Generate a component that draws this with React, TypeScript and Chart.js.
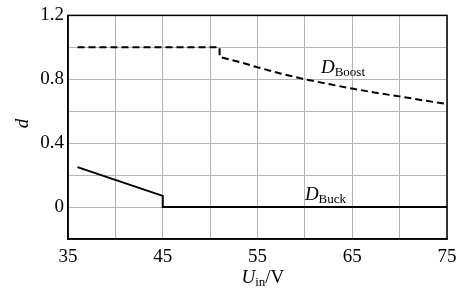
import React, { useEffect, useRef } from "react";
import { Chart, registerables } from "chart.js";

Chart.register(...registerables);

const buckX = [36, 45, 45, 75];
const buckY = [0.25, 0.07, 0, 0];
const boostX = [36, 51, 51, 53, 55, 57.5, 60, 62.5, 65, 67.5, 70, 72.5, 75];
const boostY = [1.0, 1.0, 0.94, 0.91, 0.875, 0.835, 0.8, 0.77, 0.742, 0.715, 0.693, 0.668, 0.645];
const xTickLabels = [35, 45, 55, 65, 75];
const yTickLabels = [0, 0.4, 0.8, 1.2];

const FONT = '"Liberation Serif", "Times New Roman", serif';

function drawSub(ctx: CanvasRenderingContext2D, x: number, y: number, main: string, sub: string, rest = "") {
  ctx.save();
  ctx.fillStyle = "#000";
  ctx.textBaseline = "alphabetic";
  ctx.textAlign = "left";
  ctx.font = `italic 19px ${FONT}`;
  ctx.fillText(main, x, y);
  const w1 = ctx.measureText(main).width;
  ctx.font = `13px ${FONT}`;
  ctx.fillText(sub, x + w1, y + 3);
  const w2 = ctx.measureText(sub).width;
  if (rest) {
    ctx.font = `19px ${FONT}`;
    ctx.fillText(rest, x + w1 + w2, y);
  }
  ctx.restore();
}

const labelPlugin = {
  id: "labels",
  afterDraw(chart: any) {
    const ctx = chart.ctx as CanvasRenderingContext2D;
    const xs = chart.scales.x;
    const ys = chart.scales.y;
    const a = chart.chartArea;
    ctx.save();
    ctx.strokeStyle = "#000";
    ctx.lineWidth = 1.5;
    ctx.strokeRect(a.left, a.top, a.right - a.left, a.bottom - a.top);
    ctx.restore();
    drawSub(ctx, xs.getPixelForValue(61.7), ys.getPixelForValue(0.84), "D", "Boost");
    drawSub(ctx, xs.getPixelForValue(60.0), ys.getPixelForValue(0.043), "D", "Buck");
    // x axis title
    drawSub(ctx, 241.5, 283, "U", "in", "/V");
    // y axis title
    ctx.save();
    ctx.translate(28, 123.5);
    ctx.rotate(-Math.PI / 2);
    ctx.font = `italic 19px ${FONT}`;
    ctx.fillStyle = "#000";
    ctx.textAlign = "center";
    ctx.textBaseline = "alphabetic";
    ctx.fillText("d", 0, 0);
    ctx.restore();
  },
};

export default function App() {
  const ref = useRef<HTMLCanvasElement>(null);
  useEffect(() => {
    document.body.style.margin = "0";
    document.body.style.background = "#fff";
    const chart = new Chart(ref.current!, {
      type: "scatter",
      data: {
        datasets: [
          {
            label: "DBoost",
            data: boostX.map((x, i) => ({ x, y: boostY[i] })),
            showLine: true,
            borderColor: "#000",
            borderWidth: 2,
            borderDash: [7, 4],
            pointRadius: 0,
            tension: 0,
          },
          {
            label: "DBuck",
            data: buckX.map((x, i) => ({ x, y: buckY[i] })),
            showLine: true,
            borderColor: "#000",
            borderWidth: 2,
            pointRadius: 0,
            tension: 0,
          },
        ],
      },
      options: {
        animation: false,
        responsive: false,
        maintainAspectRatio: false,
        layout: { padding: { left: 0, right: 19, top: 12, bottom: 0 } },
        plugins: { legend: { display: false }, tooltip: { enabled: false } },
        scales: {
          x: {
            type: "linear",
            min: 35,
            max: 75,
            afterFit: (s: any) => {
              s.height = 50;
            },
            border: { color: "#000", width: 1.5 },
            grid: { color: "#b4b4b4", lineWidth: 1, drawTicks: false, tickLength: 0 },
            ticks: {
              stepSize: 5,
              padding: 7,
              color: "#000",
              font: { family: FONT, size: 19 },
              maxRotation: 0,
              autoSkip: false,
              callback: (v: any) => (xTickLabels.includes(Number(v)) ? String(v) : ""),
            },
          },
          y: {
            min: -0.2,
            max: 1.2,
            afterFit: (s: any) => {
              s.width = 68;
            },
            border: { color: "#000", width: 1.5 },
            grid: { color: "#b4b4b4", lineWidth: 1, drawTicks: false, tickLength: 0 },
            ticks: {
              stepSize: 0.2,
              padding: 4,
              color: "#000",
              font: { family: FONT, size: 19 },
              autoSkip: false,
              callback: (v: any) => {
                const r = Math.round(Number(v) * 10) / 10;
                return yTickLabels.some((t) => Math.abs(t - r) < 1e-6) ? String(r) : "";
              },
            },
          },
        },
      },
      plugins: [labelPlugin],
    });
    return () => chart.destroy();
  }, []);
  return (
    <div style={{ width: 466, height: 289, background: "#fff" }}>
      <canvas ref={ref} width={466} height={289} style={{ display: "block" }} />
    </div>
  );
}
